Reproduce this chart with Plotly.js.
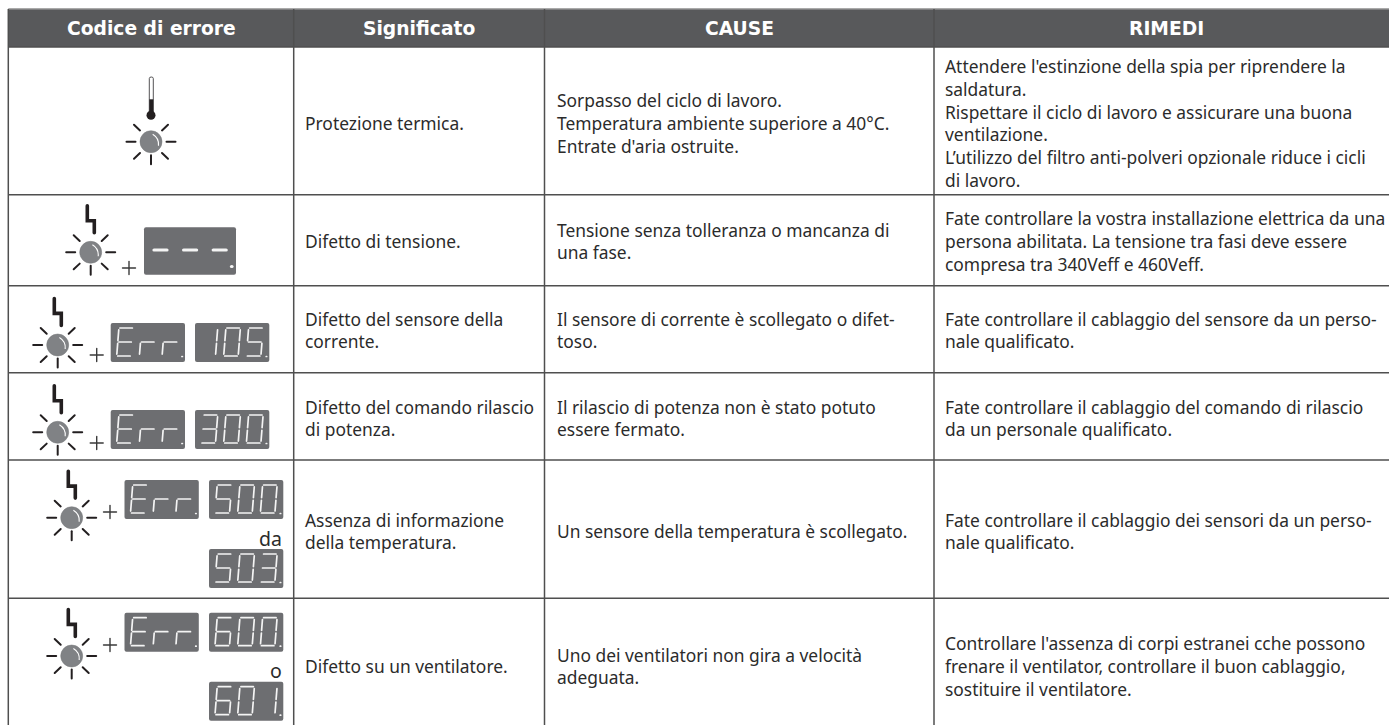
<!DOCTYPE html>
<html><head><meta charset="utf-8">
<script src="https://cdn.plot.ly/plotly-3.0.1.min.js"></script>
<style>html,body{margin:0;padding:0;background:#fff}.scatterlayer .js-line{stroke-linecap:round}</style>
</head><body><div id="chart" style="width:1389px;height:725px"></div>
<script>
const headers=["Codice di errore","Significato","CAUSE","RIMEDI"];
const meanings=[["Protezione termica."],["Difetto di tensione."],["Difetto del sensore della","corrente."],["Difetto del comando rilascio","di potenza."],["Assenza di informazione","della temperatura."],["Difetto su un ventilatore."]];
const causes=[["Sorpasso del ciclo di lavoro.","Temperatura ambiente superiore a 40°C.","Entrate d'aria ostruite."],["Tensione senza tolleranza o mancanza di","una fase."],["Il sensore di corrente è scollegato o difet-","toso."],["Il rilascio di potenza non è stato potuto","essere fermato."],["Un sensore della temperatura è scollegato."],["Uno dei ventilatori non gira a velocità","adeguata."]];
const remedies=[["Attendere l'estinzione della spia per riprendere la","saldatura.","Rispettare il ciclo di lavoro e assicurare una buona","ventilazione.","L’utilizzo del filtro anti-polveri opzionale riduce i cicli","di lavoro."],["Fate controllare la vostra installazione elettrica da una","persona abilitata. La tensione tra fasi deve essere","compresa tra 340Veff e 460Veff."],["Fate controllare il cablaggio del sensore da un perso-","nale qualificato."],["Fate controllare il cablaggio del comando di rilascio","da un personale qualificato."],["Fate controllare il cablaggio dei sensori da un perso-","nale qualificato."],["Controllare l'assenza di corpi estranei cche possono","frenare il ventilator, controllare il buon cablaggio,","sostituire il ventilatore."]];
const displayCodes=[["---."],["Err.","105."],["Err.","300."],["Err.","500.","503."],["Err.","600.","601."]];
const joinWords=["da","o"];

// layout geometry
const W=1389,H=725,colX=[8.3,293.7,544.5,934],rowY=[9,47,194.7,285.7,372.7,460,598.3,725];
const textX=[303.5,555.8,944],textCY=[123,241,330,418,531,666],LH=22.8;
const headCX=[151,419,739,1166];
const FONT='"Noto Sans"',FS=17.4,INK='#2b2b2b',RULE='#4f4f4f';

const shapes=[],annotations=[];
const line=(x0,y0,x1,y1,color,width)=>shapes.push({type:'line',x0,y0,x1,y1,line:{color,width},layer:'above'});
shapes.push({type:'rect',x0:colX[0],x1:W,y0:rowY[0],y1:rowY[1],fillcolor:'#58595b',line:{width:0},layer:'below'});
line(colX[0],rowY[0],W,rowY[0],'#8e8e8e',1.5);
rowY.slice(1,7).forEach(y=>line(colX[0],y,W,y,RULE,1.5));
colX.forEach(x=>line(x,rowY[0],x,H,RULE,1.5));

function txt(x,y,text,anchor,size,color,bold){annotations.push({x,y,text:bold?'<b>'+text+'</b>':text,xref:'x',yref:'y',xanchor:anchor,yanchor:'middle',showarrow:false,align:anchor,borderpad:0,font:{family:bold?'"DejaVu Sans"':FONT,size,color}});}
headers.forEach((h,i)=>txt(headCX[i],28,h,'center',18.7,'#ffffff',true));
[meanings,causes,remedies].forEach((col,c)=>col.forEach((lines,r)=>lines.forEach((t,i)=>txt(textX[c],textCY[r]+(i-(lines.length-1)/2)*LH,t,'left',FS,INK,false))));

// seven-segment glyphs
const GLYPH={'0':'abcdef','1':'bc','3':'abcdg','5':'acdfg','6':'acdefg','E':'adefg','r':'eg','-':'g'};
const segX=[],segY=[],dashX=[],dashY=[];
function panelShape(x0,y0,x1,y1){const r=2;shapes.push({type:'path',path:`M${x0+r},${y0} L${x1-r},${y0} Q${x1},${y0} ${x1},${y0+r} L${x1},${y1-r} Q${x1},${y1} ${x1-r},${y1} L${x0+r},${y1} Q${x0},${y1} ${x0},${y1-r} L${x0},${y0+r} Q${x0},${y0} ${x0+r},${y0} Z`,fillcolor:'#6d6e71',line:{width:0},layer:'below'});}
function glyph(ch,x,top,w,h,sl){
  const P=(u,v)=>[x+u*w+(1-v)*sl,top+v*h],g=0.07,S={a:[[g,0],[1-g,0]],b:[[1,g],[1,.5-g/1.5]],c:[[1,.5+g/1.5],[1,1-g]],d:[[g,1],[1-g,1]],e:[[0,.5+g/1.5],[0,1-g]],f:[[0,g],[0,.5-g/1.5]],g:[[g,.5],[1-g,.5]]};
  for(const s of GLYPH[ch]||''){const A=P(...S[s][0]),B=P(...S[s][1]);segX.push(A[0],B[0],null);segY.push(A[1],B[1],null);}
}
function display(x0,y0,code){
  const w=74.3,h=39;panelShape(x0,y0,x0+w,y0+h);
  const chars=code.replace('.','');
  [...chars].forEach((c,i)=>glyph(c,x0+6+22.7*i,y0+5,14.5,28,2.2));
  segX.push(x0+71.2,x0+71.7,null);segY.push(y0+33.5,y0+33.5,null);
}
// row 2 panel
panelShape(144,227.3,236,274.7);
[0,1,2].forEach(i=>{dashX.push(154+29.6*i,167+29.6*i,null);dashY.push(250,250,null);});
dashX.push(231.5,232,null);dashY.push(266.5,266.5,null);
// rows 3-6 panels, fed from displayCodes
const X1=[110.7,124.5],X2=[195,209];
display(X1[0],323,displayCodes[1][0]);display(X2[0],323,displayCodes[1][1]);
display(X1[0],410,displayCodes[2][0]);display(X2[0],410,displayCodes[2][1]);
display(X1[1],480,displayCodes[3][0]);display(X2[1],480,displayCodes[3][1]);display(X2[1],549,displayCodes[3][2]);
display(X1[1],612.7,displayCodes[4][0]);display(X2[1],612.7,displayCodes[4][1]);display(X2[1],681.7,displayCodes[4][2]);
txt(283,538,joinWords[0],'right',19.5,INK,false);txt(283,670,joinWords[1],'right',19.5,INK,false);

// lamps, rays, bolts, plus signs
const rayX=[],rayY=[],boltX=[],boltY=[],plusX=[],plusY=[];
const lamps=[[151,141.7,0],[90.7,252.3,1],[57.7,345,1],[57.7,432.3,1],[71.7,517.7,1],[71.7,656,1]];
lamps.forEach(([cx,cy,bolt])=>{
  shapes.push({type:'circle',x0:cx-11,x1:cx+11,y0:cy-11,y1:cy+11,fillcolor:'#808285',line:{color:'#77787b',width:.5},layer:'above'});
  shapes.push({type:'path',path:`M${cx+1.7},${cy-7.5} Q${cx+8.3},${cy-3.5} ${cx+7.5},${cy+4}`,line:{color:'#ffffff',width:1.1},layer:'above'});
  [[-24.5,0,-15.5,0],[15.5,0,24.5,0],[0,13.5,0,22.5],[-17,-17,-11,-11.3],[17,-17,11,-11.3],[-17,17,-11,11.3],[17,17,11,11.3]].forEach(r=>{rayX.push(cx+r[0],cx+r[2],null);rayY.push(cy+r[1],cy+r[3],null);});
  if(bolt){boltX.push(cx-3.4,cx-3.4,cx+3.6,cx+3.6,null);boltY.push(cy-46.5,cy-31.6,cy-31.6,cy-19.6,null);}
});
[[129,268],[96.7,355],[96.7,443],[110,512],[110,645]].forEach(([x,y])=>{plusX.push(x-6.5,x+6.5,null,x,x,null);plusY.push(y,y,null,y-6.5,y+6.5,null);});
// thermometer
shapes.push({type:'path',path:'M149.3,113 L149.3,78.5 Q149.3,77 151.3,77 Q153.3,77 153.3,78.5 L153.3,113 Z',fillcolor:'#fff',line:{color:'#414042',width:.9},layer:'above'});
shapes.push({type:'rect',x0:149.3,x1:153.3,y0:99.3,y1:113,fillcolor:'#231f20',line:{width:0},layer:'above'});
shapes.push({type:'circle',x0:146.5,x1:155.5,y0:110.8,y1:119.8,fillcolor:'#231f20',line:{width:0},layer:'above'});

const tr=(x,y,color,width,name)=>({x,y,name,type:'scatter',mode:'lines',line:{color,width},hoverinfo:'skip',connectgaps:false,showlegend:false});
Plotly.newPlot('chart',[
  tr(segX,segY,'#f4f4f4',1.7,'segments'),tr(dashX,dashY,'#f4f4f4',3.2,'dashes'),
  tr(rayX,rayY,'#231f20',2,'rays'),tr(boltX,boltY,'#231f20',3.6,'bolts'),tr(plusX,plusY,'#3a3a3a',1.4,'plus')
],{width:W,height:H,margin:{l:0,r:0,t:0,b:0},paper_bgcolor:'#fff',plot_bgcolor:'#fff',showlegend:false,
  xaxis:{range:[0,W],visible:false,fixedrange:true},yaxis:{range:[H,0],visible:false,fixedrange:true},shapes,annotations},{displayModeBar:false,staticPlot:true});
</script></body></html>
